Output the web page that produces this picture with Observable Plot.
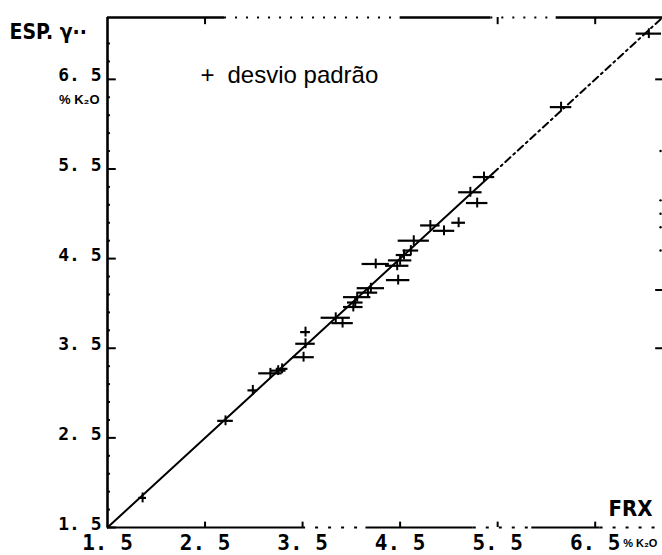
<!DOCTYPE html>
<html><head><meta charset="utf-8">
<script src="https://cdn.jsdelivr.net/npm/d3@7"></script>
<script src="https://cdn.jsdelivr.net/npm/@observablehq/plot@0.6"></script>
<style>body{margin:0;background:#fff;}</style>
</head><body><div id="chart"></div>
<script>
// FRX (% K2O) vs gamma spectrometry (% K2O), horizontal bars = standard deviation
const frx = [1.86, 2.71, 2.99, 3.17, 3.25, 3.29, 3.51, 3.53, 3.53, 3.84, 3.91, 4.02, 4.04, 4.06, 4.17, 4.20, 4.25, 4.48, 4.47, 4.50, 4.54, 4.61, 4.64, 4.81, 4.95, 5.10, 5.22, 5.29, 5.36, 6.15, 7.05];
const esp = [1.83, 2.69, 3.03, 3.22, 3.25, 3.27, 3.40, 3.55, 3.68, 3.84, 3.78, 3.96, 4.01, 4.07, 4.12, 4.17, 4.44, 4.26, 4.42, 4.48, 4.54, 4.59, 4.70, 4.87, 4.81, 4.90, 5.24, 5.12, 5.41, 6.19, 7.01];
const sd  = [0.04, 0.08, 0.05, 0.12, 0.08, 0.06, 0.11, 0.10, 0.05, 0.15, 0.11, 0.10, 0.08, 0.14, 0.10, 0.14, 0.14, 0.12, 0.12, 0.12, 0.08, 0.08, 0.16, 0.10, 0.11, 0.07, 0.12, 0.11, 0.11, 0.11, 0.13];

const tickValues = [1.5, 2.5, 3.5, 4.5, 5.5, 6.5];
const tickLabels = ["1. 5", "2. 5", "3. 5", "4. 5", "5. 5", "6. 5"];
const topTicks = [2.5, 5.5, 6.5];
const bottomTicks = [2.5, 3.5, 4.5, 5.5, 6.5];
const minorY = [1.7, 1.9, 2.1, 2.3, 2.7, 2.9, 3.1, 3.3, 3.7, 3.9, 4.1, 4.3, 4.7, 4.9, 5.1, 5.3, 5.7, 5.9, 6.1, 6.3, 6.7, 6.9];
const xMax = 7.19, yMax = 7.19;
// identity line y = x: solid then dash-dot
const lineSolid = [1.5, 5.45];
const lineDashed = [5.45, 7.19];
// frame segments as they appear in the scan
const topSolidA = [1.5, 4.5, 6.1], topSolidB = [2.7, 5.43, 7.19];
const topDotA = [2.7, 5.43], topDotB = [4.5, 6.1];
const botSolidA = [1.5, 4.15, 5.85], botSolidB = [3.5, 5.25, 6.55];
const botDotA = [3.5, 5.25, 6.55], botDotB = [4.15, 5.85, 7.19];
const rightMarks = [6.5, 4.15, 3.5];
const rightDots = [5.7, 5.15, 5.0, 4.85, 4.59];

const pts = frx.map((x, i) => ({x, y: esp[i], sd: sd[i]}));
const mono = "DejaVu Sans Mono";
const cond = "'DejaVu Sans Condensed', 'Liberation Sans', Arial, sans-serif";

const chart = Plot.plot({
  width: 662, height: 555,
  marginLeft: 107, marginRight: 0, marginTop: 17, marginBottom: 28,
  x: {domain: [1.5, xMax], axis: null},
  y: {domain: [1.5, yMax], axis: null},
  style: {background: "#fff", overflow: "visible"},
  marks: [
    // left axis
    Plot.ruleX([1.5], {y1: 1.5, y2: yMax, strokeWidth: 2.6}),
    Plot.ruleY(tickValues, {y: d => d, x1: 1.5, x2: 1.59, strokeWidth: 2}),
    Plot.ruleY(minorY, {y: d => d, x1: 1.5, x2: 1.53, strokeWidth: 2}),
    // top border
    Plot.ruleY(topSolidA, {y: yMax, x1: d => d, x2: (d, i) => topSolidB[i], strokeWidth: 2.4}),
    Plot.ruleY(topDotA, {y: yMax, x1: d => d, x2: (d, i) => topDotB[i], strokeWidth: 2.2, strokeDasharray: "2,9"}),
    Plot.ruleX(topTicks, {x: d => d, y1: yMax, y2: yMax - 0.08, strokeWidth: 2}),
    // bottom axis
    Plot.ruleY(botSolidA, {y: 1.5, x1: d => d, x2: (d, i) => botSolidB[i], strokeWidth: 2.2}),
    Plot.ruleY(botDotA, {y: 1.5, x1: d => d, x2: (d, i) => botDotB[i], strokeWidth: 2.2, strokeDasharray: "3,10"}),
    Plot.ruleX(bottomTicks, {x: d => d, y1: 1.5, y2: 1.56, strokeWidth: 2}),
    // right edge remnants
    Plot.ruleY(rightMarks, {y: d => d, x1: xMax - 0.07, x2: xMax, strokeWidth: 2}),
    Plot.dot(rightDots, {x: xMax - 0.02, y: d => d, r: 1.2, fill: "#000", stroke: null}),
    // identity line
    Plot.line(lineSolid, {x: d => d, y: d => d, strokeWidth: 2}),
    Plot.line(lineDashed, {x: d => d, y: d => d, strokeWidth: 2, strokeDasharray: "7,4,2,4"}),
    // data: horizontal std bars and plus centres
    Plot.ruleY(pts, {y: "y", x1: d => d.x - d.sd, x2: d => d.x + d.sd, strokeWidth: 2.2}),
    Plot.ruleX(pts, {x: "x", y1: d => d.y - 0.055, y2: d => d.y + 0.055, strokeWidth: 2}),
    // tick labels
    Plot.text(tickValues, {x: 1.5, y: d => d, text: (d, i) => tickLabels[i], textAnchor: "end", lineAnchor: "bottom", dx: -6, dy: 2, fontFamily: mono, fontWeight: "bold", fontSize: 18, fill: "#000"}),
    Plot.text(tickValues, {x: d => d, y: 1.5, text: (d, i) => tickLabels[i], textAnchor: "middle", lineAnchor: "top", dy: 8, fontFamily: mono, fontWeight: "bold", fontSize: 21, fill: "#000"}),
    Plot.text(["% K₂O"], {x: 1.5, y: 6.5, text: d => d, textAnchor: "end", lineAnchor: "top", dx: -8, dy: 15, fontFamily: "Liberation Sans", fontWeight: "bold", fontSize: 13, fill: "#000"}),
    Plot.text(["% K₂O"], {x: 6.5, y: 1.5, text: d => d, textAnchor: "start", lineAnchor: "top", dx: 28, dy: 12, fontFamily: "Liberation Sans", fontWeight: "bold", fontSize: 11, fill: "#000"}),
    // axis titles
    Plot.text(["ESP. γ··"], {frameAnchor: "top-left", text: d => d, textAnchor: "start", lineAnchor: "middle", dx: -98, dy: 15, fontFamily: cond, fontWeight: "bold", fontSize: 21, fill: "#000"}),
    Plot.text(["FRX"], {frameAnchor: "bottom-right", text: d => d, textAnchor: "end", lineAnchor: "bottom", dx: -10, dy: -12, fontFamily: cond, fontWeight: "bold", fontSize: 22, fill: "#000"}),
    // legend
    Plot.text(["+"], {frameAnchor: "top-left", text: d => d, textAnchor: "middle", lineAnchor: "middle", dx: 100, dy: 58, fontFamily: "Liberation Sans", fontSize: 24, fill: "#000"}),
    Plot.text(["desvio padrão"], {frameAnchor: "top-left", text: d => d, textAnchor: "start", lineAnchor: "bottom", dx: 120, dy: 65, fontFamily: "Liberation Sans", fontSize: 24, fill: "#000"})
  ]
});
document.getElementById("chart").append(chart);
</script>
</body></html>
